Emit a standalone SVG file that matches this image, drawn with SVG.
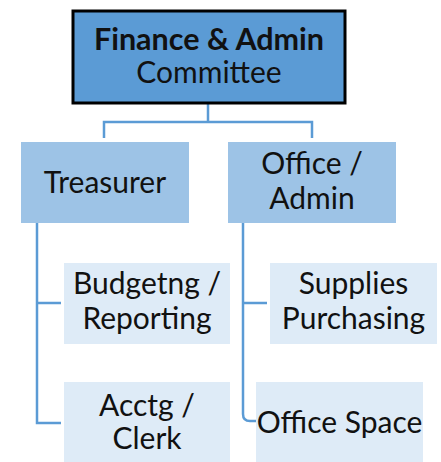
<svg xmlns="http://www.w3.org/2000/svg" width="441" height="462" viewBox="0 0 441 462">
<style>
text{font-family:Lato,"Noto Sans","Liberation Sans",sans-serif;font-size:30px;fill:#111;text-anchor:middle}
.b{font-weight:bold;font-size:30.5px}
.l1{fill:#9DC3E6}
.l2{fill:#DEEBF7}
.c{fill:none;stroke:#5B9BD5;stroke-width:2.5}
</style>
<rect width="441" height="462" fill="#fff"/>
<g id="connectors">
<path class="c" d="M208 104V122M104 138V122H312V138"/>
<path class="c" d="M37 223V423H61M37 303H61"/>
<path class="c" d="M243 223V414Q243 421 250 421H256M243 303H267"/>
</g>
<g id="n-finance"><rect x="73" y="11" width="272" height="92" fill="#5B9BD5" stroke="#000" stroke-width="3"/>
<text x="209" y="50" class="b">Finance &amp; Admin</text><text x="209" y="83">Committee</text></g>
<g id="n-treasurer"><rect class="l1" x="21" y="142" width="168" height="81"/><text x="105" y="193">Treasurer</text></g>
<g id="n-office"><rect class="l1" x="228" y="142" width="168" height="81"/><text x="312" y="174">Office /</text><text x="312" y="209">Admin</text></g>
<g id="n-budget"><rect class="l2" x="64" y="263" width="166" height="81"/><text x="147" y="294">Budgetng /</text><text x="147" y="329">Reporting</text></g>
<g id="n-supplies"><rect class="l2" x="270" y="263" width="167" height="81"/><text x="353.5" y="294">Supplies</text><text x="353.5" y="329">Purchasing</text></g>
<g id="n-acctg"><rect class="l2" x="64" y="382" width="166" height="85"/><text x="147" y="416">Acctg /</text><text x="147" y="449">Clerk</text></g>
<g id="n-space"><rect class="l2" x="256" y="382" width="167" height="85"/><text x="339.5" y="433">Office Space</text></g>
</svg>
